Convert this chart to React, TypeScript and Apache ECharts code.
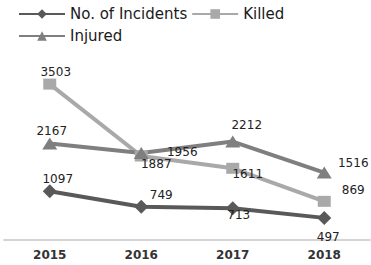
import React, { useEffect, useRef } from "react";
import * as echarts from "echarts";

const years = ["2015", "2016", "2017", "2018"];
const incidents = [1097, 749, 713, 497];
const killed = [3503, 1887, 1611, 869];
const injured = [2167, 1956, 2212, 1516];

const incidentsOffsets = [[8, -12], [20, -12], [6, 7], [4, 19]];
const killedOffsets = [[6, -12], [15, 8], [15, 6], [29, -11]];
const injuredOffsets = [[2, -13], [41, -1], [14, -17], [29, -10]];

function withLabels(values: number[], offsets: number[][]) {
  return values.map((v, i) => ({
    value: v,
    label: { position: "inside", offset: offsets[i] },
  }));
}

export default function App() {
  const ref = useRef<HTMLDivElement>(null);
  useEffect(() => {
    document.body.style.margin = "0";
    if (!ref.current) return;
    const chart = echarts.init(ref.current, undefined, { renderer: "svg" });
    const labelStyle = {
      show: true,
      fontSize: 12,
      color: "#222",
      fontFamily: "DejaVu Sans",
    };
    chart.setOption({
      animation: false,
      textStyle: { fontFamily: "DejaVu Sans" },
      legend: {
        left: 13,
        top: 0,
        width: 300,
        itemWidth: 46,
        itemHeight: 12,
        itemGap: 4,
        itemTextGap: 3,
        textStyle: {
          fontSize: 15,
          lineHeight: 18,
          color: "#1a1a1a",
          fontFamily: "DejaVu Sans",
        },
      },
      grid: { left: 4, right: 1, top: 62, bottom: 25 },
      xAxis: {
        type: "category",
        data: years,
        boundaryGap: true,
        axisLine: { lineStyle: { color: "#d4d4d4", width: 2 } },
        axisTick: { show: false },
        axisLabel: {
          fontSize: 12,
          fontWeight: "bold",
          color: "#333",
          margin: 9,
          fontFamily: "DejaVu Sans",
        },
      },
      yAxis: {
        type: "value",
        min: 0,
        max: 4000,
        show: false,
        splitLine: { show: false },
      },
      series: [
        {
          name: "No. of Incidents",
          type: "line",
          data: withLabels(incidents, incidentsOffsets),
          symbol: "diamond",
          symbolSize: 14,
          lineStyle: { color: "#595959", width: 4 },
          itemStyle: { color: "#595959" },
          label: labelStyle,
        },
        {
          name: "Killed",
          type: "line",
          data: withLabels(killed, killedOffsets),
          symbol: "rect",
          symbolSize: [13, 11],
          lineStyle: { color: "#a9a9a9", width: 4 },
          itemStyle: { color: "#a9a9a9" },
          label: labelStyle,
        },
        {
          name: "Injured",
          type: "line",
          data: withLabels(injured, injuredOffsets),
          symbol: "triangle",
          symbolSize: [15, 12],
          lineStyle: { color: "#7f7f7f", width: 4 },
          itemStyle: { color: "#7f7f7f" },
          label: labelStyle,
        },
      ],
    });
    return () => chart.dispose();
  }, []);
  return <div ref={ref} style={{ width: 371, height: 265 }} />;
}
